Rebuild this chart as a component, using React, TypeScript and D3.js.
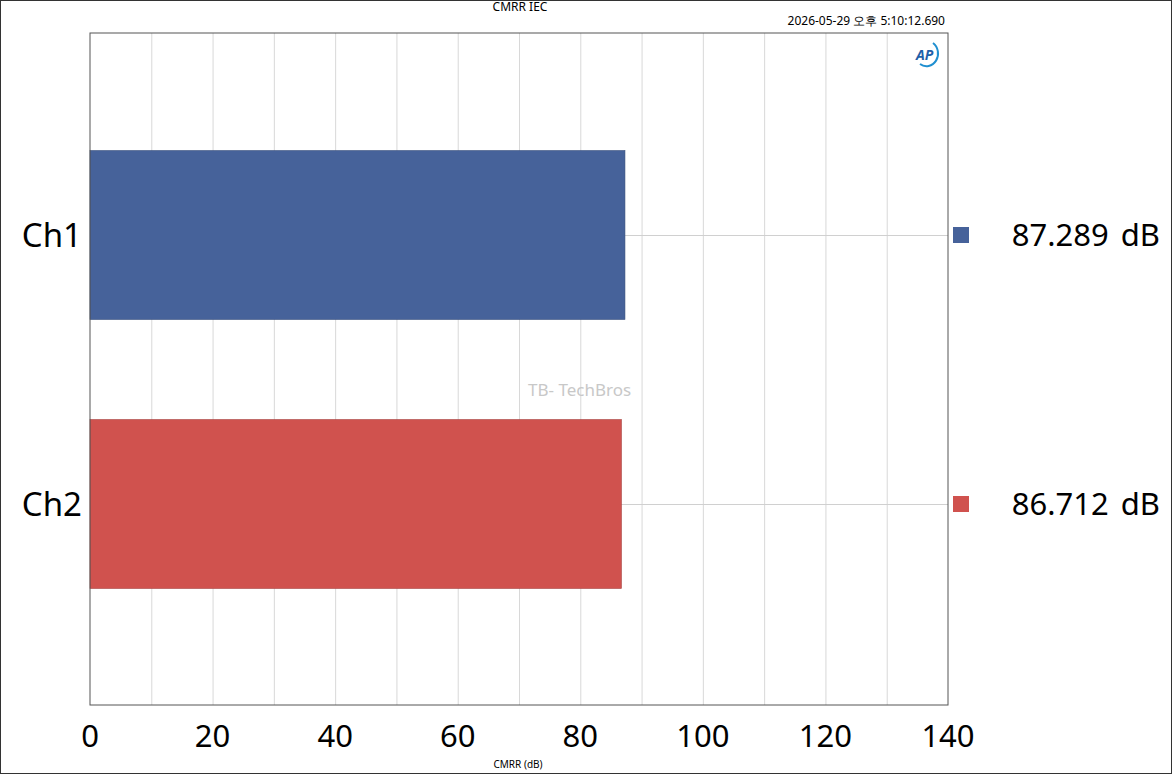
import React, { useEffect, useRef } from 'react';
import * as d3 from 'd3';

const channels = ['Ch1', 'Ch2'];
const values = [87.289, 86.712];
const colors = ['#4561999', '#d0524e'].map((c, i) => (i === 0 ? '#46629a' : c));
const xTicks = [0, 20, 40, 60, 80, 100, 120, 140];

export default function App() {
  const ref = useRef<SVGSVGElement>(null);

  useEffect(() => {
    const svg = d3.select(ref.current);
    svg.selectAll('*').remove();
    const W = 1172, H = 774;
    const left = 90, right = 948, top = 33, bottom = 705;
    const font = 'Segoe UI, Noto Sans, sans-serif';

    svg.append('rect').attr('x', 0.5).attr('y', 0.5).attr('width', W - 1).attr('height', H - 1)
      .attr('fill', 'white').attr('stroke', '#333');

    const x = d3.scaleLinear().domain([0, 140]).range([left, right]);
    const band = d3.scaleBand().domain(channels).range([100.5, 638.5]).paddingInner(0.372).paddingOuter(0.186);
    const mid = (d: string) => band(d)! + band.bandwidth() / 2;

    svg.append('g').selectAll('line').data(d3.range(10, 140, 10)).join('line')
      .attr('x1', d => x(d) + 0.5).attr('x2', d => x(d) + 0.5).attr('y1', top).attr('y2', bottom)
      .attr('stroke', '#d8d8d8').attr('stroke-width', 1);

    svg.append('g').selectAll('line').data(channels).join('line')
      .attr('x1', left).attr('x2', right)
      .attr('y1', d => mid(d) + 0.5).attr('y2', d => mid(d) + 0.5)
      .attr('stroke', '#d0d0d0');

    // watermark
    svg.append('text').attr('x', 528).attr('y', 396).attr('font-family', font).attr('font-size', 17)
      .attr('fill', '#c8c8c8').text('TB- TechBros');

    svg.append('g').selectAll('rect').data(values).join('rect')
      .attr('x', x(0)).attr('y', (d, i) => band(channels[i])!)
      .attr('width', d => x(d) - x(0)).attr('height', band.bandwidth())
      .attr('fill', (d, i) => colors[i]).attr('stroke', (d, i) => d3.color(colors[i])!.darker(0.6).toString())
      .attr('stroke-width', 0.6);

    svg.append('rect').attr('x', left).attr('y', top).attr('width', right - left).attr('height', bottom - top)
      .attr('fill', 'none').attr('stroke', '#555');

    svg.append('g').selectAll('text').data(channels).join('text')
      .attr('x', 82).attr('y', d => mid(d)).attr('dy', '0.35em')
      .attr('text-anchor', 'end').attr('font-family', font).attr('font-size', 33).text(d => d);

    svg.append('g').selectAll('text').data(xTicks).join('text')
      .attr('x', d => x(d)).attr('y', 747).attr('text-anchor', 'middle')
      .attr('font-family', font).attr('font-size', 31).text(d => d);

    const leg = svg.append('g').selectAll('g').data(values).join('g')
      .attr('transform', (d, i) => `translate(0,${mid(channels[i])})`);
    leg.append('rect').attr('x', 953).attr('y', -8).attr('width', 16).attr('height', 16).attr('fill', (d, i) => colors[i]);
    leg.append('text').attr('x', 1160).attr('dy', '0.35em').attr('text-anchor', 'end')
      .attr('font-family', font).attr('font-size', 31).attr('word-spacing', 4).text(d => `${d.toFixed(3)} dB`);

    svg.append('text').attr('x', 520).attr('y', 11).attr('text-anchor', 'middle').attr('font-family', font)
      .attr('font-size', 12).text('CMRR IEC');
    svg.append('text').attr('x', 945).attr('y', 25).attr('text-anchor', 'end').attr('font-family', font)
      .attr('font-size', 12).text('2026-05-29 오후 5:10:12.690');
    svg.append('text').attr('x', 518).attr('y', 768).attr('text-anchor', 'middle').attr('font-family', font)
      .attr('font-size', 10).text('CMRR (dB)');
    svg.append('text').attr('x', 916).attr('y', 60).attr('font-family', font).attr('font-size', 14)
      .attr('font-weight', 'bold').attr('font-style', 'italic').attr('fill', '#1f5fa8').text('AP');
    svg.append('path').attr('d', 'M933,43 A10,11 0 0 1 920,64').attr('fill', 'none').attr('stroke', '#1f8fd0').attr('stroke-width', 2);
  }, []);

  return <svg ref={ref} width={1172} height={774} style={{ position: 'absolute', left: 0, top: 0 }} />;
}
